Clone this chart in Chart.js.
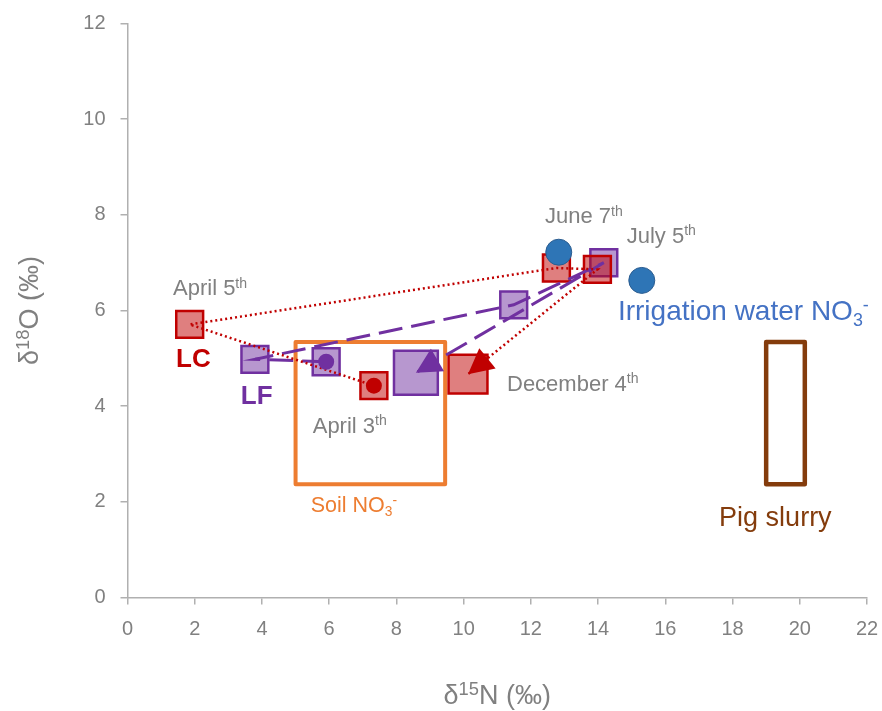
<!DOCTYPE html>
<html><head><meta charset="utf-8">
<script src="https://cdn.jsdelivr.net/npm/chart.js@4.4.1/dist/chart.umd.min.js"></script>
<style>html,body{margin:0;padding:0;background:#fff}canvas{display:block}</style>
</head><body>
<canvas id="c" width="882" height="711"></canvas>
<script>
// ---- data (delta15N, delta18O in permil) ----
const dates = ['April 3th', 'April 5th', 'June 7th', 'July 5th', 'December 4th'];
const lcN = [7.33, 1.85, 12.76, 13.98, 10.13];
const lcO = [4.43, 5.71, 6.89, 6.86, 4.67];
const lfN = [5.91, 3.79, 11.49, 14.17, 8.58];
const lfO = [4.93, 4.98, 6.12, 7.00, 4.70];
const irrN = [12.83, 15.30];
const irrO = [7.22, 6.63];
const soilN = [5.0, 9.45];
const soilO = [2.37, 5.34];
const pigN = [19.0, 20.15];
const pigO = [2.37, 5.34];
const xTicks = [0, 2, 4, 6, 8, 10, 12, 14, 16, 18, 20, 22];
const yTicks = [0, 2, 4, 6, 8, 10, 12];

const FONT = '"Liberation Sans", Arial, Helvetica, sans-serif';
const GRAY = '#808080';
const pts = (xs, ys) => xs.map((v, i) => ({x: v, y: ys[i]}));
const box = (xs, ys) => [
  {x: xs[0], y: ys[0]}, {x: xs[0], y: ys[1]}, {x: xs[1], y: ys[1]},
  {x: xs[1], y: ys[0]}, {x: xs[0], y: ys[0]}
];

// text annotations anchored in data space (left, baseline)
const notes = [
  {segs: [['April 5'], ['th', 1]], x: 1.354, y: 6.32, size: 22, color: GRAY},
  {segs: [['June 7'], ['th', 1]], x: 12.42, y: 7.83, size: 22, color: GRAY},
  {segs: [['July 5'], ['th', 1]], x: 14.85, y: 7.42, size: 22, color: GRAY},
  {segs: [['April 3'], ['th', 1]], x: 5.51, y: 3.45, size: 22, color: GRAY},
  {segs: [['December 4'], ['th', 1]], x: 11.29, y: 4.32, size: 22, color: GRAY},
  {segs: [['LC']], x: 1.443, y: 4.81, size: 26, color: '#C00000', bold: true},
  {segs: [['LF']], x: 3.37, y: 4.04, size: 26, color: '#7030A0', bold: true},
  {segs: [['Irrigation water NO'], ['3', 2], ['-', 1]], x: 14.59, y: 5.80, size: 28, color: '#4472C4'},
  {segs: [['Soil NO'], ['3', 2], ['-', 1]], x: 5.45, y: 1.79, size: 21.5, color: '#ED7D31'},
  {segs: [['Pig slurry']], x: 17.6, y: 1.5, size: 27, color: '#843C0C'}
];

function segWidth(ctx, segs, size, bold, r) {
  r = r || 0.64;
  let w = 0;
  for (const s of segs) {
    const fs = s[1] ? size * r : size;
    ctx.font = (bold ? 'bold ' : '') + fs + 'px ' + FONT;
    w += ctx.measureText(s[0]).width;
  }
  return w;
}
function drawRich(ctx, x, y, segs, size, color, bold, r) {
  r = r || 0.64;
  ctx.fillStyle = color;
  ctx.textBaseline = 'alphabetic';
  ctx.textAlign = 'left';
  let cx = x;
  for (const s of segs) {
    const kind = s[1] || 0;
    const fs = kind ? size * r : size;
    ctx.font = (bold ? 'bold ' : '') + fs + 'px ' + FONT;
    const dy = kind === 1 ? -size * 0.34 : (kind === 2 ? size * 0.2 : 0);
    ctx.fillText(s[0], cx, y + dy);
    cx += ctx.measureText(s[0]).width;
  }
}

function arrow(ctx, x0, y0, x1, y1, color, len, half) {
  const dx = x1 - x0, dy = y1 - y0, d = Math.hypot(dx, dy);
  const ux = dx / d, uy = dy / d;
  const bx = x1 - ux * len, by = y1 - uy * len;
  ctx.fillStyle = color;
  ctx.beginPath();
  ctx.moveTo(x1, y1);
  ctx.lineTo(bx - uy * half, by + ux * half);
  ctx.lineTo(bx + uy * half, by - ux * half);
  ctx.closePath();
  ctx.fill();
}

const overlay = {
  id: 'overlay',
  afterDatasetsDraw(chart) {
    const {ctx, scales: {x, y}} = chart;
    ctx.save();
    const n = lcN.length - 1;
    arrow(ctx, x.getPixelForValue(lfN[n - 1]), y.getPixelForValue(lfO[n - 1]),
      x.getPixelForValue(lfN[n]), y.getPixelForValue(lfO[n]), '#7030A0', 25, 13);
    arrow(ctx, x.getPixelForValue(lcN[n - 1]), y.getPixelForValue(lcO[n - 1]),
      x.getPixelForValue(lcN[n]), y.getPixelForValue(lcO[n]), '#C00000', 25, 13);
    for (const t of notes) {
      drawRich(ctx, x.getPixelForValue(t.x), y.getPixelForValue(t.y), t.segs, t.size, t.color, t.bold);
    }
    ctx.restore();
  },
  afterDraw(chart) {
    const {ctx, chartArea} = chart;
    ctx.save();
    // x axis title
    const xs = [['δ'], ['15', 1], ['N (‰)']];
    const w = segWidth(ctx, xs, 27, false, 0.68);
    drawRich(ctx, (chartArea.left + chartArea.right) / 2 - w / 2, 704, xs, 27, GRAY, false, 0.68);
    // y axis title
    const ys = [['δ'], ['18', 1], ['O (‰)']];
    const wy = segWidth(ctx, ys, 27, false, 0.68);
    ctx.translate(38, (chartArea.top + chartArea.bottom) / 2);
    ctx.rotate(-Math.PI / 2);
    drawRich(ctx, -wy / 2, 0, ys, 27, GRAY, false, 0.68);
    ctx.restore();
  }
};

const sq = (color, fill, radii, order) => ({
  pointStyle: 'rect', backgroundColor: fill, borderColor: color,
  borderWidth: 2.5, pointRadius: radii, showLine: false, order
});
const noPad = s => { s.paddingTop = 0; s.paddingBottom = 0; s.paddingLeft = 0; s.paddingRight = 0; };

new Chart(document.getElementById('c'), {
  type: 'scatter',
  data: {
    datasets: [
      {label: 'Soil NO3-', data: box(soilN, soilO), showLine: true, pointRadius: 0,
        borderColor: '#ED7D31', borderWidth: 4, borderJoinStyle: 'round', borderCapStyle: 'round', order: 20},
      {label: 'Pig slurry', data: box(pigN, pigO), showLine: true, pointRadius: 0,
        borderColor: '#843C0C', borderWidth: 4.5, borderJoinStyle: 'round', borderCapStyle: 'round', order: 19},
      Object.assign({label: 'LF', data: pts(lfN, lfO)}, sq('#7030A0', 'rgba(112,48,160,0.5)', [19, 19, 19, 19, 31], 18)),
      Object.assign({label: 'LC', data: pts(lcN, lcO)}, sq('#C00000', 'rgba(192,0,0,0.5)', [19, 19, 19, 19, 27.5], 17)),
      {label: 'Irrigation water NO3-', data: pts(irrN, irrO), pointStyle: 'circle', pointRadius: 13,
        backgroundColor: '#2E75B6', borderColor: '#2B5C8F', borderWidth: 1, showLine: false, order: 16},
      {label: 'LF path', data: pts(lfN, lfO), showLine: true, pointRadius: 0, borderColor: '#7030A0',
        borderWidth: 3, borderDash: [24, 9], order: 15},
      {label: 'LC path', data: pts(lcN, lcO), showLine: true, pointRadius: 0, borderColor: '#C00000',
        borderWidth: 2.5, borderDash: [2, 3], order: 14},
      {label: dates[0] + ' LF', data: pts(lfN.slice(0, 1), lfO.slice(0, 1)), pointStyle: 'circle', pointRadius: 8,
        backgroundColor: '#7030A0', borderWidth: 0, showLine: false, order: 13},
      {label: dates[0] + ' LC', data: pts(lcN.slice(0, 1), lcO.slice(0, 1)), pointStyle: 'circle', pointRadius: 8,
        backgroundColor: '#C00000', borderWidth: 0, showLine: false, order: 12}
    ]
  },
  options: {
    responsive: false,
    animation: false,
    events: [],
    layout: {autoPadding: false, padding: {left: 0, right: 15, top: 23.6, bottom: 0}},
    plugins: {legend: {display: false}, tooltip: {enabled: false}},
    scales: {
      x: {
        type: 'linear', min: 0, max: 22,
        afterBuildTicks: s => { s.ticks = xTicks.map(v => ({value: v})); },
        afterFit: s => { s.height = 113.5; noPad(s); },
        grid: {display: true, drawOnChartArea: false, drawTicks: true, tickLength: 7, color: '#B0B0B0', lineWidth: 1.5},
        border: {display: true, color: '#B0B0B0', width: 1.5},
        ticks: {color: GRAY, font: {family: FONT, size: 20}, padding: 13, maxRotation: 0}
      },
      y: {
        type: 'linear', min: 0, max: 12,
        afterBuildTicks: s => { s.ticks = yTicks.map(v => ({value: v})); },
        afterFit: s => { s.width = 127.5; noPad(s); },
        grid: {display: true, drawOnChartArea: false, drawTicks: true, tickLength: 7, color: '#B0B0B0', lineWidth: 1.5},
        border: {display: true, color: '#B0B0B0', width: 1.5},
        ticks: {color: GRAY, font: {family: FONT, size: 20}, padding: 15}
      }
    }
  },
  plugins: [overlay]
});
</script>
</body></html>
